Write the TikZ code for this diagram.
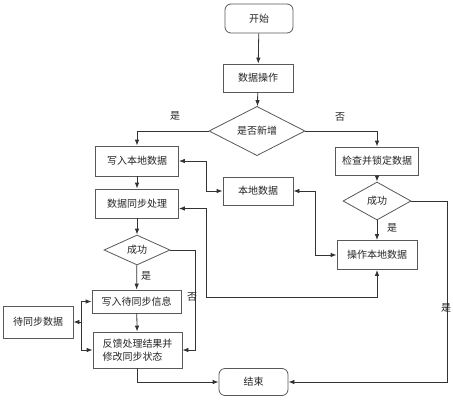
\documentclass[tikz,border=0pt]{standalone}
\usepackage{fontspec}
\newfontfamily\cjk{Noto Sans CJK SC}
\usetikzlibrary{arrows.meta,shapes.geometric}
\tikzset{
  ln/.style={draw=black!80, line width=0.8pt},
  arr/.style={ln, -{Latex[length=6pt,width=4.5pt]}},
  arrb/.style={ln, {Latex[length=6pt,width=4.5pt]}-{Latex[length=6pt,width=4.5pt]}},
  box/.style={draw=black!65, line width=0.8pt, rectangle, inner sep=0pt, text=black!85},
  rbox/.style={box, rounded corners=6pt},
  dia/.style={draw=black!65, line width=0.8pt, diamond, inner sep=0pt, text=black!85},
  lbl/.style={text=black!85, inner sep=0pt}
}
\begin{document}
\begin{tikzpicture}[x=1pt,y=-1pt,font=\cjk\fontsize{10}{13}\selectfont]
\useasboundingbox[fill=white] (0,0) rectangle (453,400);
% nodes
\node[rbox, minimum width=68pt, minimum height=29pt] (start) at (259,18.5) {开始};
\node[box, minimum width=70pt, minimum height=28pt] (op) at (258,78) {数据操作};
\node[dia, minimum width=96pt, minimum height=38pt] (dec1) at (257,131) {是否新增};
\node[box, minimum width=83pt, minimum height=30pt] (w1) at (137,161) {写入本地数据};
\node[box, minimum width=83pt, minimum height=28pt] (chk) at (377,161) {检查并锁定数据};
\node[box, minimum width=83pt, minimum height=29pt] (sync) at (137,203.5) {数据同步处理};
\node[box, minimum width=70pt, minimum height=28pt] (local) at (258,191) {本地数据};
\node[dia, minimum width=68pt, minimum height=38pt] (dec2) at (377,201) {成功};
\node[box, minimum width=80pt, minimum height=29pt] (oplocal) at (377,255) {操作本地数据};
\node[dia, minimum width=66pt, minimum height=30pt] (dec3) at (137,250) {成功};
\node[box, minimum width=89pt, minimum height=23pt] (wsync) at (136.5,301.5) {写入待同步信息};
\node[box, minimum width=89pt, minimum height=36pt, align=left] (fb) at (137.5,350) {反馈处理结果并\\修改同步状态};
\node[box, minimum width=70pt, minimum height=32pt] (pend) at (38,322) {待同步数据};
\node[rbox, minimum width=69pt, minimum height=27pt] (end) at (253.5,382) {结束};
% connectors
\draw[arr] (start) -- (op);
\draw[arr] (op) -- (dec1);
\draw[arr] (dec1.west) -| (w1.north);
\node[lbl] (yes1) at (175,116) {是};
\draw[arr] (dec1.east) -| (chk.north);
\node[lbl] (no1) at (340,117) {否};
\draw[arr] (w1) -- (sync);
\draw[arrb] (w1.east) -- ++(27,0) |- (local.west);
\draw[arrb] (local.east) -- ++(22,0) |- (oplocal.west);
\draw[arrb] ([yshift=-5pt]sync.east) -- ++(27,0) -- ++(0,88.5) -| (oplocal.south);
\draw[arr] (chk) -- (dec2);
\draw[arr] (dec2) -- (oplocal);
\node[lbl] (yes2) at (392,228) {是};
\draw[arr] (dec2.east) -- ++(36,0) |- (end.east);
\node[lbl] (yes3) at (446,308) {是};
\draw[arr] (sync) -- (dec3);
\draw[arr] (dec3) -- (wsync);
\node[lbl] (yes4) at (146,276) {是};
\draw[arr] (dec3.east) -- ++(25,0) |- (fb.east);
\node[lbl] (no2) at (192,297) {否};
\draw[arr] (wsync) -- (fb);
\draw[arrb] (wsync.west) -- ++(-10,0) |- (fb.west);
\draw[arr] ([xshift=-10pt]wsync.west) |- (pend.east);
\draw[arr] (fb.south) |- (end.west);
\end{tikzpicture}
\end{document}
